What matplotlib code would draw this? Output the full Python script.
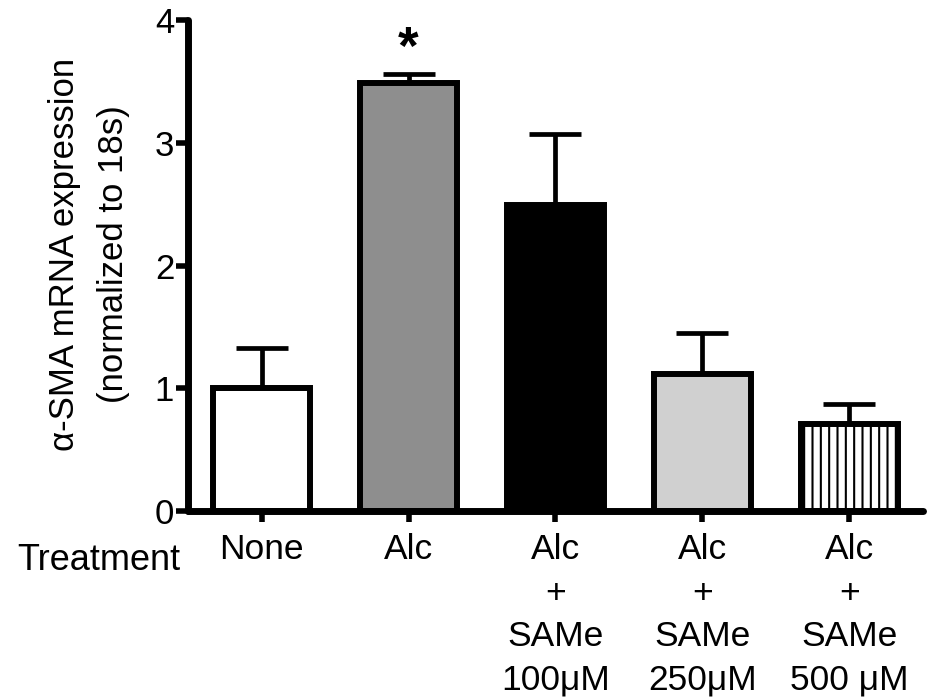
import matplotlib.pyplot as plt
import numpy as np

plt.rcParams['font.family'] = ['Liberation Sans', 'DejaVu Sans']
plt.rcParams['hatch.linewidth'] = 1.5

treatments = ["None", "Alc", "Alc\n+\nSAMe\n100μM", "Alc\n+\nSAMe\n250μM", "Alc\n+\nSAMe\n500 μM"]
expression = [1.0, 3.49, 2.49, 1.12, 0.71]
sem = [0.33, 0.07, 0.58, 0.33, 0.16]
fills = ["white", "#8e8e8e", "black", "#d0d0d0", "white"]
hatches = [None, None, None, None, "||"]


def main():
    fig = plt.figure(figsize=(9.29, 7.0), dpi=100)
    ax = fig.add_axes([0.2024, 0.27, 0.7911, 0.7014])

    x = np.arange(len(treatments))
    bars = ax.bar(x, expression, width=0.66, color=fills, edgecolor="black",
                  linewidth=4.3, zorder=2)
    for bar, h in zip(bars, hatches):
        if h:
            bar.set_hatch(h)

    ax.errorbar(x, expression, yerr=[np.zeros(len(sem)), sem], fmt="none",
                ecolor="black", elinewidth=3.4, capsize=19, capthick=3.4, zorder=1)

    ax.text(x[1], 3.76, "*", ha="center", va="center", fontsize=38, fontweight="bold")

    ax.set_xlim(-0.5, 4.5)
    ax.set_ylim(0, 4)
    ax.set_yticks([0, 1, 2, 3, 4])
    ax.set_xticks(x)
    ax.set_xticklabels(treatments, fontsize=25.5, linespacing=1.4)
    ax.tick_params(axis="y", labelsize=25, length=9, width=4, pad=1)
    ax.tick_params(axis="x", length=8, width=4, pad=8)

    for side in ["top", "right"]:
        ax.spines[side].set_visible(False)
    for side in ["left", "bottom"]:
        ax.spines[side].set_linewidth(5)
        ax.spines[side].set_capstyle("round")

    ax.set_ylabel("α-SMA mRNA expression\n(normalized to 18s)", fontsize=25,
                  linespacing=1.6, va="center")
    ax.yaxis.set_label_coords(-0.135, 0.523)

    fig.text(17 / 929, 1 - 560 / 700, "Treatment", fontsize=26, ha="left", va="center")

    fig.savefig("out.png", dpi=100)


if __name__ == "__main__":
    main()
